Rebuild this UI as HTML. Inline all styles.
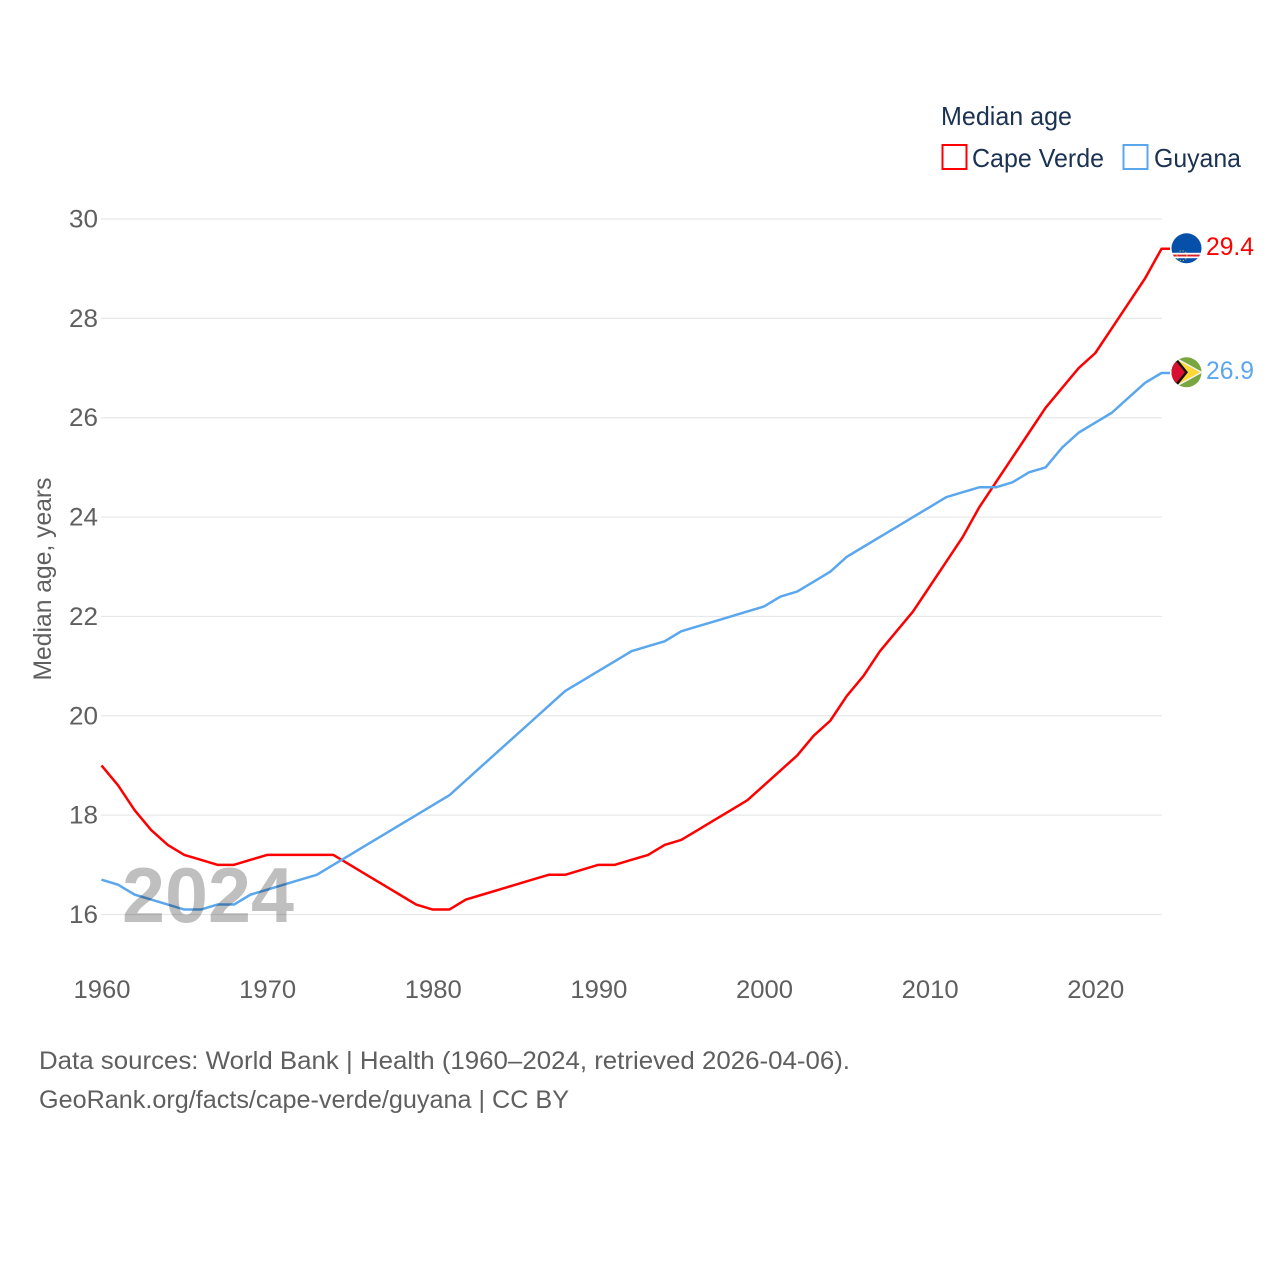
<!DOCTYPE html>
<html lang="en">
<head>
<meta charset="utf-8">
<title>Median age: Cape Verde and Guyana</title>
<style>
html,body{margin:0;padding:0;background:#fff;}
svg{display:block;font-family:"Liberation Sans",sans-serif;}
.tick{font-size:25px;fill:#5f5f5f;}
.legend{font-size:26px;fill:#1b3252;}
.foot{font-size:25px;fill:#5f5f5f;}
</style>
</head>
<body>
<svg id="chart" xmlns="http://www.w3.org/2000/svg" width="1280" height="1280" viewBox="0 0 1280 1280">
  <rect width="1280" height="1280" fill="#ffffff"/>
  <defs>
    <clipPath id="flag-clip-cv"><circle cx="1186.5" cy="248.3" r="15"/></clipPath>
    <clipPath id="flag-clip-gy"><circle cx="1186.5" cy="372.3" r="15"/></clipPath>
  </defs>
  <g id="grid"></g>
  <g id="yticks"></g>
  <g id="xticks"></g>
  <text class="tick" transform="translate(51,579) rotate(-90)" text-anchor="middle" textLength="203" lengthAdjust="spacingAndGlyphs">Median age, years</text>
  <g id="lines"></g>
  <text id="year" x="122" y="922" font-size="78" font-weight="700" fill="#000000" fill-opacity="0.25" textLength="172" lengthAdjust="spacingAndGlyphs">2024</text>

  <g>
    <text class="legend" x="941" y="125" textLength="131" lengthAdjust="spacingAndGlyphs">Median age</text>
    <rect x="942.5" y="145" width="24" height="24" fill="none" stroke="#ff0000" stroke-width="2"/>
    <text class="legend" x="972" y="167" textLength="132" lengthAdjust="spacingAndGlyphs">Cape Verde</text>
    <rect x="1123.5" y="145" width="24" height="24" fill="none" stroke="#5ba7ee" stroke-width="2"/>
    <text class="legend" x="1154" y="167" textLength="87" lengthAdjust="spacingAndGlyphs">Guyana</text>
  </g>

  <g clip-path="url(#flag-clip-cv)">
    <rect x="1170" y="232" width="34" height="34" fill="#0650aa"/>
    <rect x="1170" y="252.8" width="34" height="5.4" fill="#ffffff"/>
    <rect x="1170" y="254.6" width="34" height="1.9" fill="#d8232f"/>
    <circle cx="1182" cy="255.7" r="5" fill="none" stroke="#e8d44a" stroke-width="1" stroke-dasharray="1 2"/>
  </g>
  <g clip-path="url(#flag-clip-gy)">
    <rect x="1170" y="356" width="34" height="34" fill="#78a63f"/>
    <polygon points="1172,355.3 1203,372.3 1172,389.3" fill="#f2f2f2"/>
    <polygon points="1172,357 1200,372.3 1172,387.6" fill="#fdd835"/>
    <polygon points="1170,350 1188,372.3 1170,394.6" fill="#111111"/>
    <polygon points="1170,354 1185,372.3 1170,390.6" fill="#d80f31"/>
  </g>

  <text id="value-cv" x="1206" y="255" font-size="25" fill="#ff0000" textLength="48" lengthAdjust="spacingAndGlyphs"></text>
  <text id="value-gy" x="1206" y="379" font-size="25" fill="#5ba7ee" textLength="48" lengthAdjust="spacingAndGlyphs"></text>

  <text class="foot" x="39" y="1069" textLength="811" lengthAdjust="spacingAndGlyphs">Data sources: World Bank | Health (1960–2024, retrieved 2026-04-06).</text>
  <text class="foot" x="39" y="1108" textLength="530" lengthAdjust="spacingAndGlyphs">GeoRank.org/facts/cape-verde/guyana | CC BY</text>
</svg>
<script>
var years = [1960,1961,1962,1963,1964,1965,1966,1967,1968,1969,1970,1971,1972,1973,1974,1975,1976,1977,1978,1979,1980,1981,1982,1983,1984,1985,1986,1987,1988,1989,1990,1991,1992,1993,1994,1995,1996,1997,1998,1999,2000,2001,2002,2003,2004,2005,2006,2007,2008,2009,2010,2011,2012,2013,2014,2015,2016,2017,2018,2019,2020,2021,2022,2023,2024];
var capeVerde = [19,18.6,18.1,17.7,17.4,17.2,17.1,17,17,17.1,17.2,17.2,17.2,17.2,17.2,17,16.8,16.6,16.4,16.2,16.1,16.1,16.3,16.4,16.5,16.6,16.7,16.8,16.8,16.9,17,17,17.1,17.2,17.4,17.5,17.7,17.9,18.1,18.3,18.6,18.9,19.2,19.6,19.9,20.4,20.8,21.3,21.7,22.1,22.6,23.1,23.6,24.2,24.7,25.2,25.7,26.2,26.6,27,27.3,27.8,28.3,28.8,29.4];
var guyana = [16.7,16.6,16.4,16.3,16.2,16.1,16.1,16.2,16.2,16.4,16.5,16.6,16.7,16.8,17,17.2,17.4,17.6,17.8,18,18.2,18.4,18.7,19,19.3,19.6,19.9,20.2,20.5,20.7,20.9,21.1,21.3,21.4,21.5,21.7,21.8,21.9,22,22.1,22.2,22.4,22.5,22.7,22.9,23.2,23.4,23.6,23.8,24,24.2,24.4,24.5,24.6,24.6,24.7,24.9,25,25.4,25.7,25.9,26.1,26.4,26.7,26.9];
var yTicks = [16,18,20,22,24,26,28,30];
var xTicks = [1960,1970,1980,1990,2000,2010,2020];

var NS = 'http://www.w3.org/2000/svg';
function xScale(year) { return 101.5 + (year - 1960) * (1161.5 - 101.5) / 64; }
function yScale(v) { return 914.5 - (v - 16) * (914.5 - 219) / 14; }
function make(tag, parent) {
  var el = document.createElementNS(NS, tag);
  parent.appendChild(el);
  return el;
}

var grid = document.getElementById('grid');
var yGroup = document.getElementById('yticks');
var xGroup = document.getElementById('xticks');
var lines = document.getElementById('lines');

yTicks.forEach(function (t) {
  var ln = make('line', grid);
  
  
  ln.setAttribute('x1', 101);
  ln.setAttribute('x2', 1162);
  ln.setAttribute('y1', yScale(t));
  ln.setAttribute('y2', yScale(t));
  ln.setAttribute('stroke', '#e8e8e8');
  ln.setAttribute('stroke-width', '1.2');
  var lab = make('text', yGroup);
  
  
  lab.setAttribute('class', 'tick');
  lab.setAttribute('x', 69);
  lab.setAttribute('y', yScale(t) + 8.5);
  lab.setAttribute('textLength', 29);
  lab.setAttribute('lengthAdjust', 'spacingAndGlyphs');
  lab.textContent = t;
});

xTicks.forEach(function (t) {
  var lab = make('text', xGroup);
  
  
  lab.setAttribute('class', 'tick');
  lab.setAttribute('x', xScale(t) - 28);
  lab.setAttribute('y', 998);
  lab.setAttribute('textLength', 57);
  lab.setAttribute('lengthAdjust', 'spacingAndGlyphs');
  lab.textContent = t;
});

function pathFor(values) {
  var pts = values.map(function (v, i) {
    return xScale(years[i]).toFixed(2) + ',' + yScale(v).toFixed(2);
  });
  var last = values[values.length - 1];
  pts.push('1170,' + yScale(last).toFixed(2));
  return 'M' + pts.join('L');
}

var lineCv = make('path', lines);


lineCv.setAttribute('d', pathFor(capeVerde));
lineCv.setAttribute('fill', 'none');
lineCv.setAttribute('stroke', '#ff0000');
lineCv.setAttribute('stroke-width', '2.5');
lineCv.setAttribute('stroke-linejoin', 'round');

var lineGy = make('path', lines);


lineGy.setAttribute('d', pathFor(guyana));
lineGy.setAttribute('fill', 'none');
lineGy.setAttribute('stroke', '#5ba7ee');
lineGy.setAttribute('stroke-width', '2.5');
lineGy.setAttribute('stroke-linejoin', 'round');

document.getElementById('value-cv').textContent = capeVerde[capeVerde.length - 1].toFixed(1);
document.getElementById('value-gy').textContent = guyana[guyana.length - 1].toFixed(1);
document.getElementById('year').textContent = years[years.length - 1];
</script>
</body>
</html>
